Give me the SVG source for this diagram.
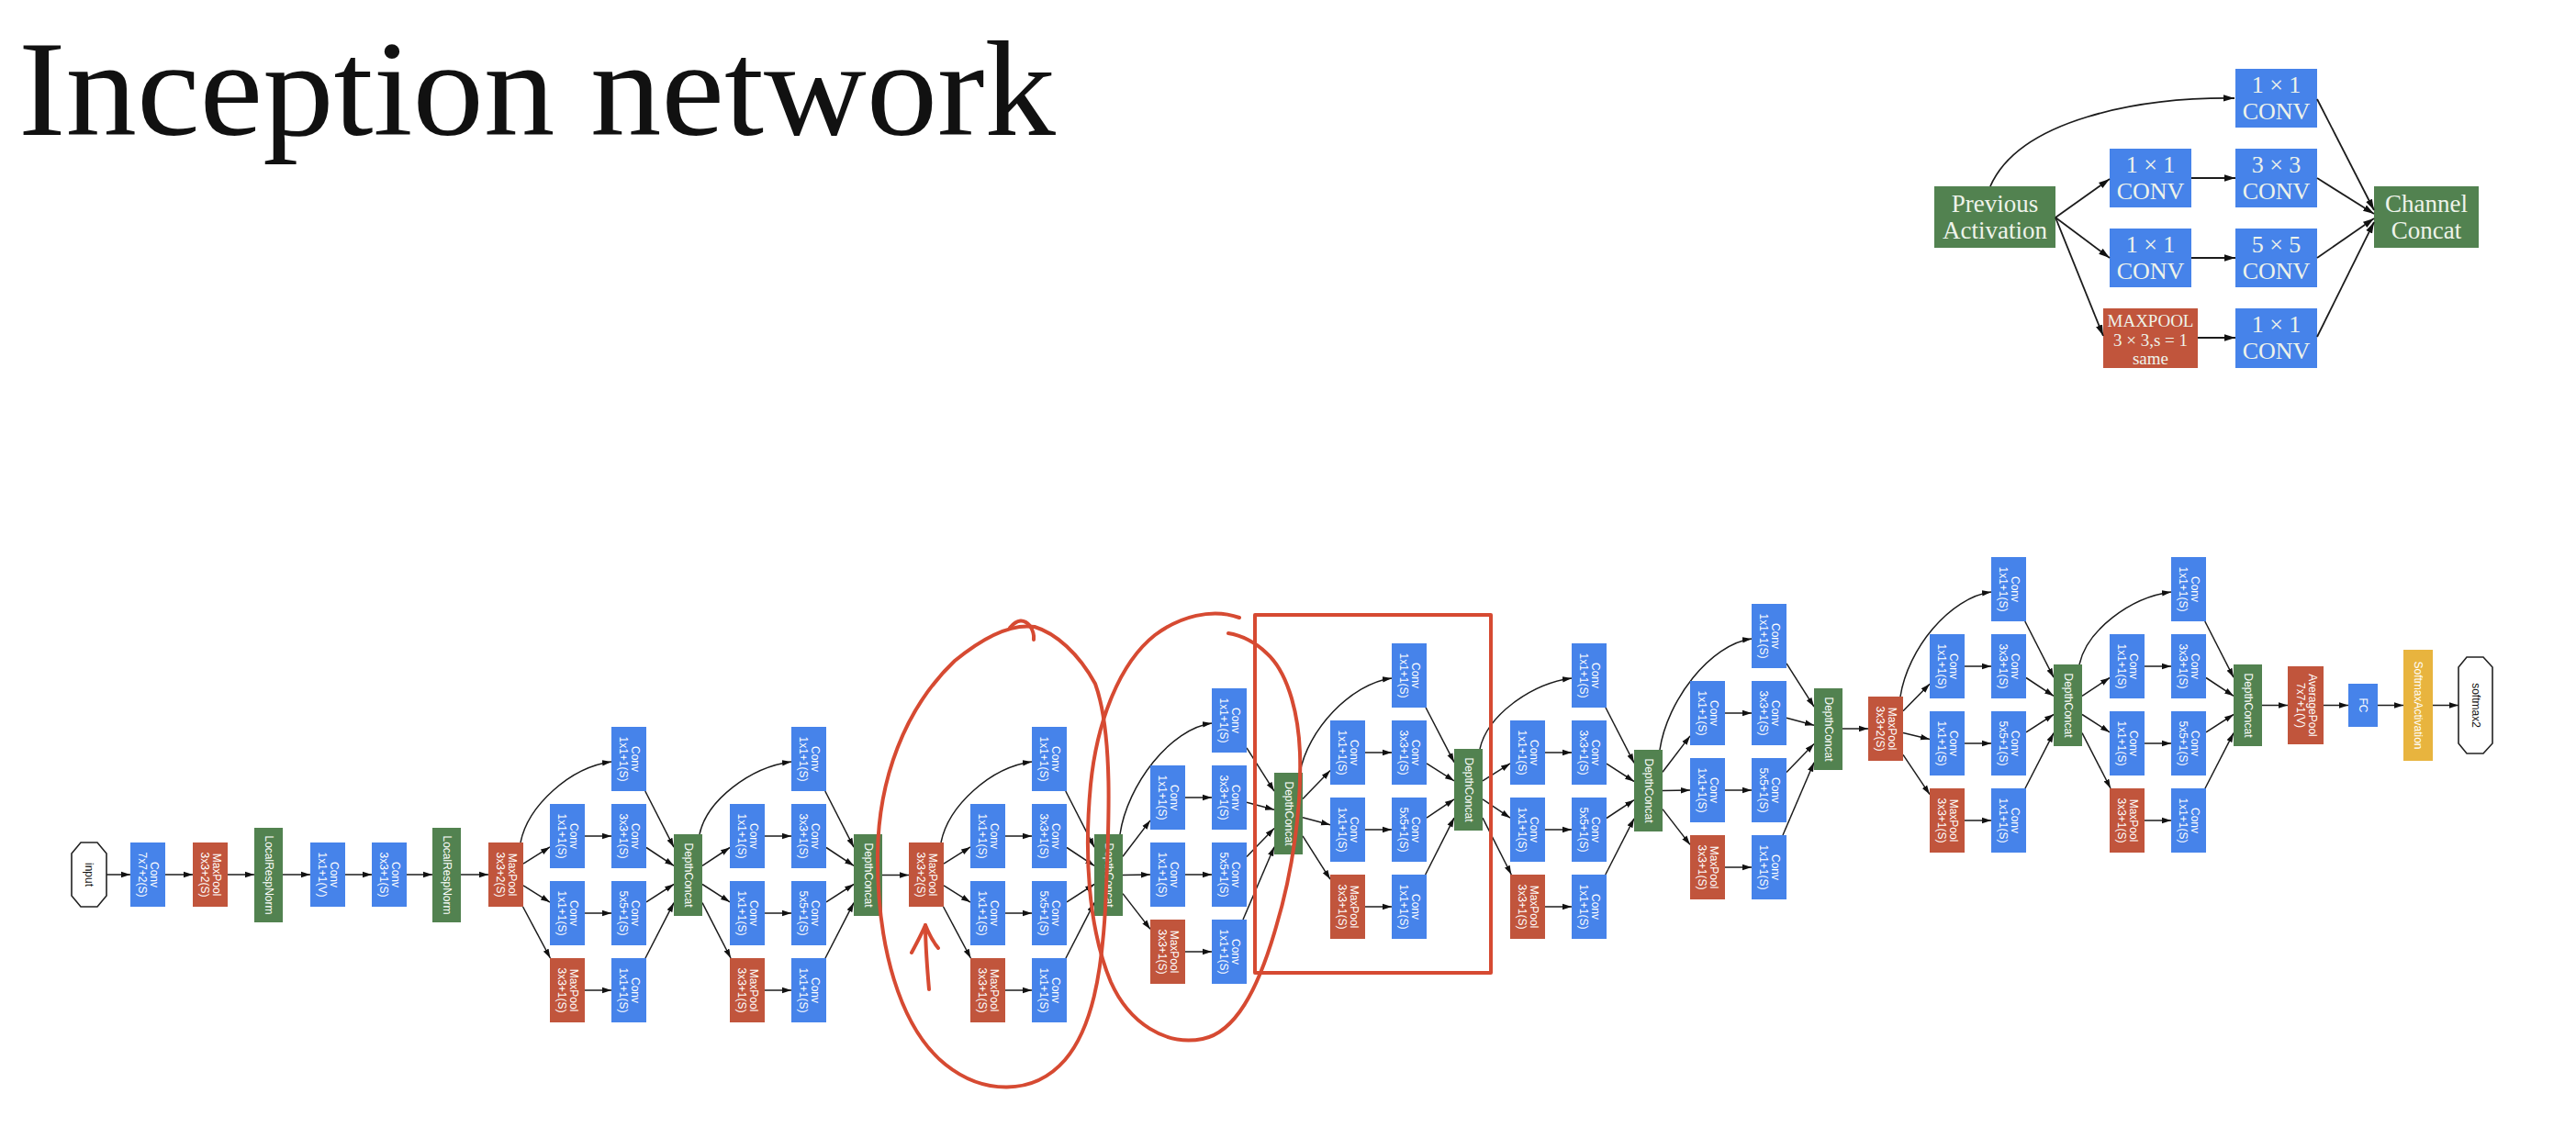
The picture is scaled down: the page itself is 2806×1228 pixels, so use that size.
<svg xmlns="http://www.w3.org/2000/svg" width="2806" height="1228" viewBox="0 0 2806 1228">
<defs>
<style>
.cv{fill:#4683ea}
.mp{fill:#c1553c}
.cc{fill:#528250}
.sm{fill:#e8b43e}
.oct{fill:#fff;stroke:#222;stroke-width:1.6}
.lb{font-family:"Liberation Sans",Arial,sans-serif;font-size:12px;fill:#fff;text-anchor:middle}
.lk{font-family:"Liberation Sans",Arial,sans-serif;font-size:12px;fill:#111;text-anchor:middle}
.tl{font-family:"Liberation Serif","Times New Roman",serif;fill:#eef3ea;text-anchor:middle}
.e{fill:none;stroke:#1c1c1c;stroke-width:1.5;marker-end:url(#ah)}
.e2{fill:none;stroke:#1c1c1c;stroke-width:1.8;marker-end:url(#ah2)}
.ann{fill:none;stroke:#d64a32;stroke-width:4;stroke-linecap:round;stroke-linejoin:round}
</style>
<marker id="ah" viewBox="0 0 10 8" refX="10" refY="4" markerWidth="10" markerHeight="8" markerUnits="userSpaceOnUse" orient="auto"><path d="M0,0.8 L10,4 L0,7.2z" fill="#111"/></marker>
<marker id="ah2" viewBox="0 0 12 9" refX="12" refY="4.5" markerWidth="12" markerHeight="9" markerUnits="userSpaceOnUse" orient="auto"><path d="M0,0.8 L12,4.5 L0,8.2z" fill="#111"/></marker>
</defs>
<rect width="2806" height="1228" fill="#fff"/>

<text x="20" y="147" font-family="'Liberation Serif','Times New Roman',serif" font-size="148" textLength="1130" lengthAdjust="spacingAndGlyphs" fill="#111">Inception network</text>

<!-- inception module sketch, upper right -->
<g id="module">
<g id="m-prev"><rect class="cc" x="2107" y="203" width="132" height="67"/><text class="tl" font-size="27"><tspan x="2173" y="231">Previous</tspan><tspan x="2173" y="260">Activation</tspan></text></g>
<g id="m-c1"><rect class="cv" x="2435" y="75" width="89" height="64"/><text class="tl" font-size="26"><tspan x="2479.5" y="101">1 × 1</tspan><tspan x="2479.5" y="130">CONV</tspan></text></g>
<g id="m-r1"><rect class="cv" x="2298" y="162" width="89" height="64"/><text class="tl" font-size="26"><tspan x="2342.5" y="188">1 × 1</tspan><tspan x="2342.5" y="217">CONV</tspan></text></g>
<g id="m-c3"><rect class="cv" x="2435" y="162" width="89" height="64"/><text class="tl" font-size="26"><tspan x="2479.5" y="188">3 × 3</tspan><tspan x="2479.5" y="217">CONV</tspan></text></g>
<g id="m-r2"><rect class="cv" x="2298" y="249" width="89" height="64"/><text class="tl" font-size="26"><tspan x="2342.5" y="275">1 × 1</tspan><tspan x="2342.5" y="304">CONV</tspan></text></g>
<g id="m-c5"><rect class="cv" x="2435" y="249" width="89" height="64"/><text class="tl" font-size="26"><tspan x="2479.5" y="275">5 × 5</tspan><tspan x="2479.5" y="304">CONV</tspan></text></g>
<g id="m-pool"><rect class="mp" x="2291" y="336" width="103" height="65"/><text class="tl" font-size="19"><tspan x="2342.5" y="356">MAXPOOL</tspan><tspan x="2342.5" y="377">3 × 3,s = 1</tspan><tspan x="2342.5" y="397">same</tspan></text></g>
<g id="m-cp"><rect class="cv" x="2435" y="336" width="89" height="65"/><text class="tl" font-size="26"><tspan x="2479.5" y="362">1 × 1</tspan><tspan x="2479.5" y="391">CONV</tspan></text></g>
<g id="m-concat"><rect class="cc" x="2586" y="203" width="114" height="67"/><text class="tl" font-size="27"><tspan x="2643" y="231">Channel</tspan><tspan x="2643" y="260">Concat</tspan></text></g>
</g>

<g id="module-connectors">
<path class="e2" d="M2168,203 C2200,130 2330,106 2434,107"/>
<path class="e2" d="M2239,237 L2298,195"/>
<path class="e2" d="M2239,237 L2298,281"/>
<path class="e2" d="M2239,237 L2291,366"/>
<path class="e2" d="M2387,194 L2435,194"/>
<path class="e2" d="M2387,281 L2435,281"/>
<path class="e2" d="M2394,368 L2435,368"/>
<path class="e2" d="M2524,108 L2586,229"/>
<path class="e2" d="M2524,194 L2586,233"/>
<path class="e2" d="M2524,281 L2586,238"/>
<path class="e2" d="M2524,367 L2586,242"/>
</g>

<!-- GoogLeNet graph: connectors -->
<g id="connectors">
<path class="e" d="M116,953H142"/>
<path class="e" d="M180,953H210"/>
<path class="e" d="M248,953H277"/>
<path class="e" d="M308,953H338"/>
<path class="e" d="M376,953H405"/>
<path class="e" d="M443,953H471"/>
<path class="e" d="M502,953H532"/>
<path class="e" d="M961,953.5H990"/>
<path class="e" d="M2007,794H2035"/>
<path class="e" d="M2464,768.5H2492"/>
<path class="e" d="M2531,768.5H2558"/>
<path class="e" d="M2590,768.5H2618"/>
<path class="e" d="M2650,768.5H2678"/>

<g id="e3a" transform="translate(599,792)">
<path class="e" d="M-32,126C-24,86 22,44 67,38"/>
<path class="e" d="M-29,149.1L0,130.9"/><path class="e" d="M-29,172.9L0,191.1"/><path class="e" d="M-29.4,196L0.4,252"/>
<path class="e" d="M38,119H67"/><path class="e" d="M38,203H67"/><path class="e" d="M38,287H67"/>
<path class="e" d="M103.8,70L135,131.1"/><path class="e" d="M105,131.5L135,151.3"/><path class="e" d="M105,190.8L135,171.5"/><path class="e" d="M104,252L135,191.7"/>
</g>
<g id="e3b" transform="translate(795,792)">
<path class="e" d="M-33,117C-25,80 22,44 67,38"/>
<path class="e" d="M-30,151.3L0,131.5"/><path class="e" d="M-30,171.5L0,190.8"/><path class="e" d="M-30,191.7L1,252"/>
<path class="e" d="M38,119H67"/><path class="e" d="M38,203H67"/><path class="e" d="M38,287H67"/>
<path class="e" d="M103.8,70L135,131.1"/><path class="e" d="M105,131.5L135,151.3"/><path class="e" d="M105,190.8L135,171.5"/><path class="e" d="M104,252L135,191.7"/>
</g>
<g id="e4a" transform="translate(1057,792)">
<path class="e" d="M-32,126C-24,86 22,44 67,38"/>
<path class="e" d="M-29,149.1L0,130.9"/><path class="e" d="M-29,172.9L0,191.1"/><path class="e" d="M-29.4,196L0.4,252"/>
<path class="e" d="M38,119H67"/><path class="e" d="M38,203H67"/><path class="e" d="M38,287H67"/>
<path class="e" d="M103.8,70L135,131.1"/><path class="e" d="M105,131.5L135,151.3"/><path class="e" d="M105,190.8L135,171.5"/><path class="e" d="M104,252L135,191.7"/>
</g>
<g id="e4b" transform="translate(1253,750)">
<path class="e" d="M-33,159C-25,105 22,44 67,38"/>
<path class="e" d="M-30,183.2L0,143.9"/><path class="e" d="M-30,203.4L0,203.1"/><path class="e" d="M-30,223.6L0,262.4"/>
<path class="e" d="M38,119H67"/><path class="e" d="M38,203H67"/><path class="e" d="M38,287H67"/>
<path class="e" d="M105,64.9L135,112.1"/><path class="e" d="M105,124.2L135,132.3"/><path class="e" d="M105,183.4L135,152.5"/><path class="e" d="M101,252L135,172.7"/>
</g>
<g id="e4c" transform="translate(1449,701)">
<path class="e" d="M-33,141C-25,95 22,44 67,38"/>
<path class="e" d="M-30,169.5L0,138.6"/><path class="e" d="M-30,189.7L0,197.8"/><path class="e" d="M-30,209.9L0,257.1"/>
<path class="e" d="M38,119H67"/><path class="e" d="M38,203H67"/><path class="e" d="M38,287H67"/>
<path class="e" d="M104.1,70L135,129.6"/><path class="e" d="M105,130.9L135,149.8"/><path class="e" d="M105,190.2L135,169.9"/><path class="e" d="M103.7,252L135,190.1"/>
</g>
<g id="e4d" transform="translate(1645,701)">
<path class="e" d="M-33,115C-25,79 22,44 67,38"/>
<path class="e" d="M-30,149.8L0,130.9"/><path class="e" d="M-30,169.9L0,190.2"/><path class="e" d="M-30,190.1L1.3,252"/>
<path class="e" d="M38,119H67"/><path class="e" d="M38,203H67"/><path class="e" d="M38,287H67"/>
<path class="e" d="M104,70L135,130.3"/><path class="e" d="M105,131.2L135,150.5"/><path class="e" d="M105,190.5L135,170.7"/><path class="e" d="M103.8,252L135,190.9"/>
</g>
<g id="e4e" transform="translate(1841,658)">
<path class="e" d="M-33,159C-25,105 22,44 67,38"/>
<path class="e" d="M-30,183.2L0,143.9"/><path class="e" d="M-30,203.4L0,203.1"/><path class="e" d="M-30,223.6L0,262.4"/>
<path class="e" d="M38,119H67"/><path class="e" d="M38,203H67"/><path class="e" d="M38,287H67"/>
<path class="e" d="M105,64.9L135,112.1"/><path class="e" d="M105,124.2L135,132.3"/><path class="e" d="M105,183.4L135,152.5"/><path class="e" d="M101,252L135,172.7"/>
</g>
<g id="e5a" transform="translate(2102,607)">
<path class="e" d="M-32,152C-24,100 22,44 67,38"/>
<path class="e" d="M-29,167.7L0,138.3"/><path class="e" d="M-29,191.5L0,198.5"/><path class="e" d="M-29,215.4L0,258.6"/>
<path class="e" d="M38,119H67"/><path class="e" d="M38,203H67"/><path class="e" d="M38,287H67"/>
<path class="e" d="M103.8,70L135,131.1"/><path class="e" d="M105,131.5L135,151.3"/><path class="e" d="M105,190.8L135,171.5"/><path class="e" d="M104,252L135,191.7"/>
</g>
<g id="e5b" transform="translate(2298,607)">
<path class="e" d="M-33,117C-25,80 22,44 67,38"/>
<path class="e" d="M-30,151.3L0,131.5"/><path class="e" d="M-30,171.5L0,190.8"/><path class="e" d="M-30,191.7L1,252"/>
<path class="e" d="M38,119H67"/><path class="e" d="M38,203H67"/><path class="e" d="M38,287H67"/>
<path class="e" d="M103.8,70L135,131.1"/><path class="e" d="M105,131.5L135,151.3"/><path class="e" d="M105,190.8L135,171.5"/><path class="e" d="M104,252L135,191.7"/>
</g>
</g>

<!-- GoogLeNet graph: stem -->
<g id="input"><polygon class="oct" points="88,918 106,918 116,930 116,976 106,988 88,988 78,976 78,930"/><text class="lk" transform="translate(97,953) rotate(90)" y="4">input</text></g>
<g id="conv1"><rect class="cv" x="142" y="918" width="38" height="70"/><text class="lb" transform="translate(161,953) rotate(90)"><tspan x="0" y="-3">Conv</tspan><tspan x="0" y="10">7x7+2(S)</tspan></text></g>
<g id="pool1"><rect class="mp" x="210" y="918" width="38" height="70"/><text class="lb" transform="translate(229,953) rotate(90)"><tspan x="0" y="-3">MaxPool</tspan><tspan x="0" y="10">3x3+2(S)</tspan></text></g>
<g id="norm1"><rect class="cc" x="277" y="902" width="31" height="103"/><text class="lb" transform="translate(292.5,953.5) rotate(90)" y="4">LocalRespNorm</text></g>
<g id="conv2r"><rect class="cv" x="338" y="918" width="38" height="70"/><text class="lb" transform="translate(357,953) rotate(90)"><tspan x="0" y="-3">Conv</tspan><tspan x="0" y="10">1x1+1(V)</tspan></text></g>
<g id="conv2"><rect class="cv" x="405" y="918" width="38" height="70"/><text class="lb" transform="translate(424,953) rotate(90)"><tspan x="0" y="-3">Conv</tspan><tspan x="0" y="10">3x3+1(S)</tspan></text></g>
<g id="norm2"><rect class="cc" x="471" y="902" width="31" height="103"/><text class="lb" transform="translate(486.5,953.5) rotate(90)" y="4">LocalRespNorm</text></g>
<g id="pool2"><rect class="mp" x="532" y="918" width="38" height="70"/><text class="lb" transform="translate(551,953) rotate(90)"><tspan x="0" y="-3">MaxPool</tspan><tspan x="0" y="10">3x3+2(S)</tspan></text></g>

<!-- inception blocks: branch columns at x and x+67, concat at x+135 -->
<g id="inc3a" transform="translate(599,792)">
<g id="i3a-a"><rect class="cv" x="67" y="0" width="38" height="70"/><text class="lb" transform="translate(86,35) rotate(90)"><tspan x="0" y="-3">Conv</tspan><tspan x="0" y="10">1x1+1(S)</tspan></text></g>
<g id="i3a-b1"><rect class="cv" x="0" y="84" width="38" height="70"/><text class="lb" transform="translate(19,119) rotate(90)"><tspan x="0" y="-3">Conv</tspan><tspan x="0" y="10">1x1+1(S)</tspan></text></g>
<g id="i3a-b2"><rect class="cv" x="67" y="84" width="38" height="70"/><text class="lb" transform="translate(86,119) rotate(90)"><tspan x="0" y="-3">Conv</tspan><tspan x="0" y="10">3x3+1(S)</tspan></text></g>
<g id="i3a-c1"><rect class="cv" x="0" y="168" width="38" height="70"/><text class="lb" transform="translate(19,203) rotate(90)"><tspan x="0" y="-3">Conv</tspan><tspan x="0" y="10">1x1+1(S)</tspan></text></g>
<g id="i3a-c2"><rect class="cv" x="67" y="168" width="38" height="70"/><text class="lb" transform="translate(86,203) rotate(90)"><tspan x="0" y="-3">Conv</tspan><tspan x="0" y="10">5x5+1(S)</tspan></text></g>
<g id="i3a-d1"><rect class="mp" x="0" y="252" width="38" height="70"/><text class="lb" transform="translate(19,287) rotate(90)"><tspan x="0" y="-3">MaxPool</tspan><tspan x="0" y="10">3x3+1(S)</tspan></text></g>
<g id="i3a-d2"><rect class="cv" x="67" y="252" width="38" height="70"/><text class="lb" transform="translate(86,287) rotate(90)"><tspan x="0" y="-3">Conv</tspan><tspan x="0" y="10">1x1+1(S)</tspan></text></g>
<g id="i3a-cat"><rect class="cc" x="135" y="117" width="31" height="89"/><text class="lb" transform="translate(150.5,161.5) rotate(90)" y="4">DepthConcat</text></g>
</g>

<g id="inc3b" transform="translate(795,792)">
<g id="i3b-a"><rect class="cv" x="67" y="0" width="38" height="70"/><text class="lb" transform="translate(86,35) rotate(90)"><tspan x="0" y="-3">Conv</tspan><tspan x="0" y="10">1x1+1(S)</tspan></text></g>
<g id="i3b-b1"><rect class="cv" x="0" y="84" width="38" height="70"/><text class="lb" transform="translate(19,119) rotate(90)"><tspan x="0" y="-3">Conv</tspan><tspan x="0" y="10">1x1+1(S)</tspan></text></g>
<g id="i3b-b2"><rect class="cv" x="67" y="84" width="38" height="70"/><text class="lb" transform="translate(86,119) rotate(90)"><tspan x="0" y="-3">Conv</tspan><tspan x="0" y="10">3x3+1(S)</tspan></text></g>
<g id="i3b-c1"><rect class="cv" x="0" y="168" width="38" height="70"/><text class="lb" transform="translate(19,203) rotate(90)"><tspan x="0" y="-3">Conv</tspan><tspan x="0" y="10">1x1+1(S)</tspan></text></g>
<g id="i3b-c2"><rect class="cv" x="67" y="168" width="38" height="70"/><text class="lb" transform="translate(86,203) rotate(90)"><tspan x="0" y="-3">Conv</tspan><tspan x="0" y="10">5x5+1(S)</tspan></text></g>
<g id="i3b-d1"><rect class="mp" x="0" y="252" width="38" height="70"/><text class="lb" transform="translate(19,287) rotate(90)"><tspan x="0" y="-3">MaxPool</tspan><tspan x="0" y="10">3x3+1(S)</tspan></text></g>
<g id="i3b-d2"><rect class="cv" x="67" y="252" width="38" height="70"/><text class="lb" transform="translate(86,287) rotate(90)"><tspan x="0" y="-3">Conv</tspan><tspan x="0" y="10">1x1+1(S)</tspan></text></g>
<g id="i3b-cat"><rect class="cc" x="135" y="117" width="31" height="89"/><text class="lb" transform="translate(150.5,161.5) rotate(90)" y="4">DepthConcat</text></g>
</g>

<g id="pool3"><rect class="mp" x="990" y="918" width="38" height="70"/><text class="lb" transform="translate(1009,953) rotate(90)"><tspan x="0" y="-3">MaxPool</tspan><tspan x="0" y="10">3x3+2(S)</tspan></text></g>

<g id="inc4a" transform="translate(1057,792)">
<g id="i4a-a"><rect class="cv" x="67" y="0" width="38" height="70"/><text class="lb" transform="translate(86,35) rotate(90)"><tspan x="0" y="-3">Conv</tspan><tspan x="0" y="10">1x1+1(S)</tspan></text></g>
<g id="i4a-b1"><rect class="cv" x="0" y="84" width="38" height="70"/><text class="lb" transform="translate(19,119) rotate(90)"><tspan x="0" y="-3">Conv</tspan><tspan x="0" y="10">1x1+1(S)</tspan></text></g>
<g id="i4a-b2"><rect class="cv" x="67" y="84" width="38" height="70"/><text class="lb" transform="translate(86,119) rotate(90)"><tspan x="0" y="-3">Conv</tspan><tspan x="0" y="10">3x3+1(S)</tspan></text></g>
<g id="i4a-c1"><rect class="cv" x="0" y="168" width="38" height="70"/><text class="lb" transform="translate(19,203) rotate(90)"><tspan x="0" y="-3">Conv</tspan><tspan x="0" y="10">1x1+1(S)</tspan></text></g>
<g id="i4a-c2"><rect class="cv" x="67" y="168" width="38" height="70"/><text class="lb" transform="translate(86,203) rotate(90)"><tspan x="0" y="-3">Conv</tspan><tspan x="0" y="10">5x5+1(S)</tspan></text></g>
<g id="i4a-d1"><rect class="mp" x="0" y="252" width="38" height="70"/><text class="lb" transform="translate(19,287) rotate(90)"><tspan x="0" y="-3">MaxPool</tspan><tspan x="0" y="10">3x3+1(S)</tspan></text></g>
<g id="i4a-d2"><rect class="cv" x="67" y="252" width="38" height="70"/><text class="lb" transform="translate(86,287) rotate(90)"><tspan x="0" y="-3">Conv</tspan><tspan x="0" y="10">1x1+1(S)</tspan></text></g>
<g id="i4a-cat"><rect class="cc" x="135" y="117" width="31" height="89"/><text class="lb" transform="translate(150.5,161.5) rotate(90)" y="4">DepthConcat</text></g>
</g>

<g id="inc4b" transform="translate(1253,750)">
<g id="i4b-a"><rect class="cv" x="67" y="0" width="38" height="70"/><text class="lb" transform="translate(86,35) rotate(90)"><tspan x="0" y="-3">Conv</tspan><tspan x="0" y="10">1x1+1(S)</tspan></text></g>
<g id="i4b-b1"><rect class="cv" x="0" y="84" width="38" height="70"/><text class="lb" transform="translate(19,119) rotate(90)"><tspan x="0" y="-3">Conv</tspan><tspan x="0" y="10">1x1+1(S)</tspan></text></g>
<g id="i4b-b2"><rect class="cv" x="67" y="84" width="38" height="70"/><text class="lb" transform="translate(86,119) rotate(90)"><tspan x="0" y="-3">Conv</tspan><tspan x="0" y="10">3x3+1(S)</tspan></text></g>
<g id="i4b-c1"><rect class="cv" x="0" y="168" width="38" height="70"/><text class="lb" transform="translate(19,203) rotate(90)"><tspan x="0" y="-3">Conv</tspan><tspan x="0" y="10">1x1+1(S)</tspan></text></g>
<g id="i4b-c2"><rect class="cv" x="67" y="168" width="38" height="70"/><text class="lb" transform="translate(86,203) rotate(90)"><tspan x="0" y="-3">Conv</tspan><tspan x="0" y="10">5x5+1(S)</tspan></text></g>
<g id="i4b-d1"><rect class="mp" x="0" y="252" width="38" height="70"/><text class="lb" transform="translate(19,287) rotate(90)"><tspan x="0" y="-3">MaxPool</tspan><tspan x="0" y="10">3x3+1(S)</tspan></text></g>
<g id="i4b-d2"><rect class="cv" x="67" y="252" width="38" height="70"/><text class="lb" transform="translate(86,287) rotate(90)"><tspan x="0" y="-3">Conv</tspan><tspan x="0" y="10">1x1+1(S)</tspan></text></g>
<g id="i4b-cat"><rect class="cc" x="135" y="92" width="31" height="89"/><text class="lb" transform="translate(150.5,136.5) rotate(90)" y="4">DepthConcat</text></g>
</g>

<g id="inc4c" transform="translate(1449,701)">
<g id="i4c-a"><rect class="cv" x="67" y="0" width="38" height="70"/><text class="lb" transform="translate(86,35) rotate(90)"><tspan x="0" y="-3">Conv</tspan><tspan x="0" y="10">1x1+1(S)</tspan></text></g>
<g id="i4c-b1"><rect class="cv" x="0" y="84" width="38" height="70"/><text class="lb" transform="translate(19,119) rotate(90)"><tspan x="0" y="-3">Conv</tspan><tspan x="0" y="10">1x1+1(S)</tspan></text></g>
<g id="i4c-b2"><rect class="cv" x="67" y="84" width="38" height="70"/><text class="lb" transform="translate(86,119) rotate(90)"><tspan x="0" y="-3">Conv</tspan><tspan x="0" y="10">3x3+1(S)</tspan></text></g>
<g id="i4c-c1"><rect class="cv" x="0" y="168" width="38" height="70"/><text class="lb" transform="translate(19,203) rotate(90)"><tspan x="0" y="-3">Conv</tspan><tspan x="0" y="10">1x1+1(S)</tspan></text></g>
<g id="i4c-c2"><rect class="cv" x="67" y="168" width="38" height="70"/><text class="lb" transform="translate(86,203) rotate(90)"><tspan x="0" y="-3">Conv</tspan><tspan x="0" y="10">5x5+1(S)</tspan></text></g>
<g id="i4c-d1"><rect class="mp" x="0" y="252" width="38" height="70"/><text class="lb" transform="translate(19,287) rotate(90)"><tspan x="0" y="-3">MaxPool</tspan><tspan x="0" y="10">3x3+1(S)</tspan></text></g>
<g id="i4c-d2"><rect class="cv" x="67" y="252" width="38" height="70"/><text class="lb" transform="translate(86,287) rotate(90)"><tspan x="0" y="-3">Conv</tspan><tspan x="0" y="10">1x1+1(S)</tspan></text></g>
<g id="i4c-cat"><rect class="cc" x="135" y="115" width="31" height="89"/><text class="lb" transform="translate(150.5,159.5) rotate(90)" y="4">DepthConcat</text></g>
</g>

<g id="inc4d" transform="translate(1645,701)">
<g id="i4d-a"><rect class="cv" x="67" y="0" width="38" height="70"/><text class="lb" transform="translate(86,35) rotate(90)"><tspan x="0" y="-3">Conv</tspan><tspan x="0" y="10">1x1+1(S)</tspan></text></g>
<g id="i4d-b1"><rect class="cv" x="0" y="84" width="38" height="70"/><text class="lb" transform="translate(19,119) rotate(90)"><tspan x="0" y="-3">Conv</tspan><tspan x="0" y="10">1x1+1(S)</tspan></text></g>
<g id="i4d-b2"><rect class="cv" x="67" y="84" width="38" height="70"/><text class="lb" transform="translate(86,119) rotate(90)"><tspan x="0" y="-3">Conv</tspan><tspan x="0" y="10">3x3+1(S)</tspan></text></g>
<g id="i4d-c1"><rect class="cv" x="0" y="168" width="38" height="70"/><text class="lb" transform="translate(19,203) rotate(90)"><tspan x="0" y="-3">Conv</tspan><tspan x="0" y="10">1x1+1(S)</tspan></text></g>
<g id="i4d-c2"><rect class="cv" x="67" y="168" width="38" height="70"/><text class="lb" transform="translate(86,203) rotate(90)"><tspan x="0" y="-3">Conv</tspan><tspan x="0" y="10">5x5+1(S)</tspan></text></g>
<g id="i4d-d1"><rect class="mp" x="0" y="252" width="38" height="70"/><text class="lb" transform="translate(19,287) rotate(90)"><tspan x="0" y="-3">MaxPool</tspan><tspan x="0" y="10">3x3+1(S)</tspan></text></g>
<g id="i4d-d2"><rect class="cv" x="67" y="252" width="38" height="70"/><text class="lb" transform="translate(86,287) rotate(90)"><tspan x="0" y="-3">Conv</tspan><tspan x="0" y="10">1x1+1(S)</tspan></text></g>
<g id="i4d-cat"><rect class="cc" x="135" y="116" width="31" height="89"/><text class="lb" transform="translate(150.5,160.5) rotate(90)" y="4">DepthConcat</text></g>
</g>

<g id="inc4e" transform="translate(1841,658)">
<g id="i4e-a"><rect class="cv" x="67" y="0" width="38" height="70"/><text class="lb" transform="translate(86,35) rotate(90)"><tspan x="0" y="-3">Conv</tspan><tspan x="0" y="10">1x1+1(S)</tspan></text></g>
<g id="i4e-b1"><rect class="cv" x="0" y="84" width="38" height="70"/><text class="lb" transform="translate(19,119) rotate(90)"><tspan x="0" y="-3">Conv</tspan><tspan x="0" y="10">1x1+1(S)</tspan></text></g>
<g id="i4e-b2"><rect class="cv" x="67" y="84" width="38" height="70"/><text class="lb" transform="translate(86,119) rotate(90)"><tspan x="0" y="-3">Conv</tspan><tspan x="0" y="10">3x3+1(S)</tspan></text></g>
<g id="i4e-c1"><rect class="cv" x="0" y="168" width="38" height="70"/><text class="lb" transform="translate(19,203) rotate(90)"><tspan x="0" y="-3">Conv</tspan><tspan x="0" y="10">1x1+1(S)</tspan></text></g>
<g id="i4e-c2"><rect class="cv" x="67" y="168" width="38" height="70"/><text class="lb" transform="translate(86,203) rotate(90)"><tspan x="0" y="-3">Conv</tspan><tspan x="0" y="10">5x5+1(S)</tspan></text></g>
<g id="i4e-d1"><rect class="mp" x="0" y="252" width="38" height="70"/><text class="lb" transform="translate(19,287) rotate(90)"><tspan x="0" y="-3">MaxPool</tspan><tspan x="0" y="10">3x3+1(S)</tspan></text></g>
<g id="i4e-d2"><rect class="cv" x="67" y="252" width="38" height="70"/><text class="lb" transform="translate(86,287) rotate(90)"><tspan x="0" y="-3">Conv</tspan><tspan x="0" y="10">1x1+1(S)</tspan></text></g>
<g id="i4e-cat"><rect class="cc" x="135" y="92" width="31" height="89"/><text class="lb" transform="translate(150.5,136.5) rotate(90)" y="4">DepthConcat</text></g>
</g>

<g id="pool4"><rect class="mp" x="2035" y="759" width="38" height="70"/><text class="lb" transform="translate(2054,794) rotate(90)"><tspan x="0" y="-3">MaxPool</tspan><tspan x="0" y="10">3x3+2(S)</tspan></text></g>

<g id="inc5a" transform="translate(2102,607)">
<g id="i5a-a"><rect class="cv" x="67" y="0" width="38" height="70"/><text class="lb" transform="translate(86,35) rotate(90)"><tspan x="0" y="-3">Conv</tspan><tspan x="0" y="10">1x1+1(S)</tspan></text></g>
<g id="i5a-b1"><rect class="cv" x="0" y="84" width="38" height="70"/><text class="lb" transform="translate(19,119) rotate(90)"><tspan x="0" y="-3">Conv</tspan><tspan x="0" y="10">1x1+1(S)</tspan></text></g>
<g id="i5a-b2"><rect class="cv" x="67" y="84" width="38" height="70"/><text class="lb" transform="translate(86,119) rotate(90)"><tspan x="0" y="-3">Conv</tspan><tspan x="0" y="10">3x3+1(S)</tspan></text></g>
<g id="i5a-c1"><rect class="cv" x="0" y="168" width="38" height="70"/><text class="lb" transform="translate(19,203) rotate(90)"><tspan x="0" y="-3">Conv</tspan><tspan x="0" y="10">1x1+1(S)</tspan></text></g>
<g id="i5a-c2"><rect class="cv" x="67" y="168" width="38" height="70"/><text class="lb" transform="translate(86,203) rotate(90)"><tspan x="0" y="-3">Conv</tspan><tspan x="0" y="10">5x5+1(S)</tspan></text></g>
<g id="i5a-d1"><rect class="mp" x="0" y="252" width="38" height="70"/><text class="lb" transform="translate(19,287) rotate(90)"><tspan x="0" y="-3">MaxPool</tspan><tspan x="0" y="10">3x3+1(S)</tspan></text></g>
<g id="i5a-d2"><rect class="cv" x="67" y="252" width="38" height="70"/><text class="lb" transform="translate(86,287) rotate(90)"><tspan x="0" y="-3">Conv</tspan><tspan x="0" y="10">1x1+1(S)</tspan></text></g>
<g id="i5a-cat"><rect class="cc" x="135" y="117" width="31" height="89"/><text class="lb" transform="translate(150.5,161.5) rotate(90)" y="4">DepthConcat</text></g>
</g>

<g id="inc5b" transform="translate(2298,607)">
<g id="i5b-a"><rect class="cv" x="67" y="0" width="38" height="70"/><text class="lb" transform="translate(86,35) rotate(90)"><tspan x="0" y="-3">Conv</tspan><tspan x="0" y="10">1x1+1(S)</tspan></text></g>
<g id="i5b-b1"><rect class="cv" x="0" y="84" width="38" height="70"/><text class="lb" transform="translate(19,119) rotate(90)"><tspan x="0" y="-3">Conv</tspan><tspan x="0" y="10">1x1+1(S)</tspan></text></g>
<g id="i5b-b2"><rect class="cv" x="67" y="84" width="38" height="70"/><text class="lb" transform="translate(86,119) rotate(90)"><tspan x="0" y="-3">Conv</tspan><tspan x="0" y="10">3x3+1(S)</tspan></text></g>
<g id="i5b-c1"><rect class="cv" x="0" y="168" width="38" height="70"/><text class="lb" transform="translate(19,203) rotate(90)"><tspan x="0" y="-3">Conv</tspan><tspan x="0" y="10">1x1+1(S)</tspan></text></g>
<g id="i5b-c2"><rect class="cv" x="67" y="168" width="38" height="70"/><text class="lb" transform="translate(86,203) rotate(90)"><tspan x="0" y="-3">Conv</tspan><tspan x="0" y="10">5x5+1(S)</tspan></text></g>
<g id="i5b-d1"><rect class="mp" x="0" y="252" width="38" height="70"/><text class="lb" transform="translate(19,287) rotate(90)"><tspan x="0" y="-3">MaxPool</tspan><tspan x="0" y="10">3x3+1(S)</tspan></text></g>
<g id="i5b-d2"><rect class="cv" x="67" y="252" width="38" height="70"/><text class="lb" transform="translate(86,287) rotate(90)"><tspan x="0" y="-3">Conv</tspan><tspan x="0" y="10">1x1+1(S)</tspan></text></g>
<g id="i5b-cat"><rect class="cc" x="135" y="117" width="31" height="89"/><text class="lb" transform="translate(150.5,161.5) rotate(90)" y="4">DepthConcat</text></g>
</g>

<!-- classifier head -->
<g id="avgpool"><rect class="mp" x="2492" y="726" width="39" height="85"/><text class="lb" transform="translate(2511.5,768.5) rotate(90)"><tspan x="0" y="-3">AveragePool</tspan><tspan x="0" y="10">7x7+1(V)</tspan></text></g>
<g id="fc"><rect class="cv" x="2558" y="745" width="32" height="47"/><text class="lb" transform="translate(2574,768.5) rotate(90)" y="4">FC</text></g>
<g id="softmax"><rect class="sm" x="2618" y="708" width="32" height="121"/><text class="lb" transform="translate(2634,768.5) rotate(90)" y="4">SoftmaxActivation</text></g>
<g id="softmax2"><polygon class="oct" points="2687,716 2705,716 2715,727 2715,810 2705,821 2687,821 2678,810 2678,727"/><text class="lk" transform="translate(2696.5,768.5) rotate(90)" y="4">softmax2</text></g>

<!-- hand-drawn pen marks -->
<g id="pen">
<path class="ann" d="M1127,683 C1100,679 1068,697 1040,720 C985,772 957,850 956,930 C955,1030 980,1120 1030,1160 C1070,1192 1125,1195 1160,1155 C1190,1120 1200,1060 1204,990 C1208,900 1213,800 1193,745 C1175,712 1150,690 1127,683"/>
<path class="ann" d="M1100,684 Q1112,670 1122,682 Q1127,690 1126,697"/>
<path class="ann" d="M1350,673 C1320,662 1285,672 1258,692 C1220,722 1195,785 1188,855 C1181,930 1185,1010 1210,1070 C1230,1115 1270,1140 1310,1132 C1345,1125 1370,1080 1390,1010 C1408,950 1418,880 1416,820 C1414,770 1400,730 1380,712 C1368,700 1352,692 1338,690"/>
<rect class="ann" x="1367" y="670" width="257" height="390" stroke-width="4.5" stroke-linejoin="miter"/>
<path class="ann" d="M1012,1078 C1010,1055 1008,1030 1008,1008"/>
<path class="ann" d="M993,1038 C1000,1025 1005,1015 1008,1008 C1012,1018 1017,1027 1022,1033"/>
</g>
</svg>
